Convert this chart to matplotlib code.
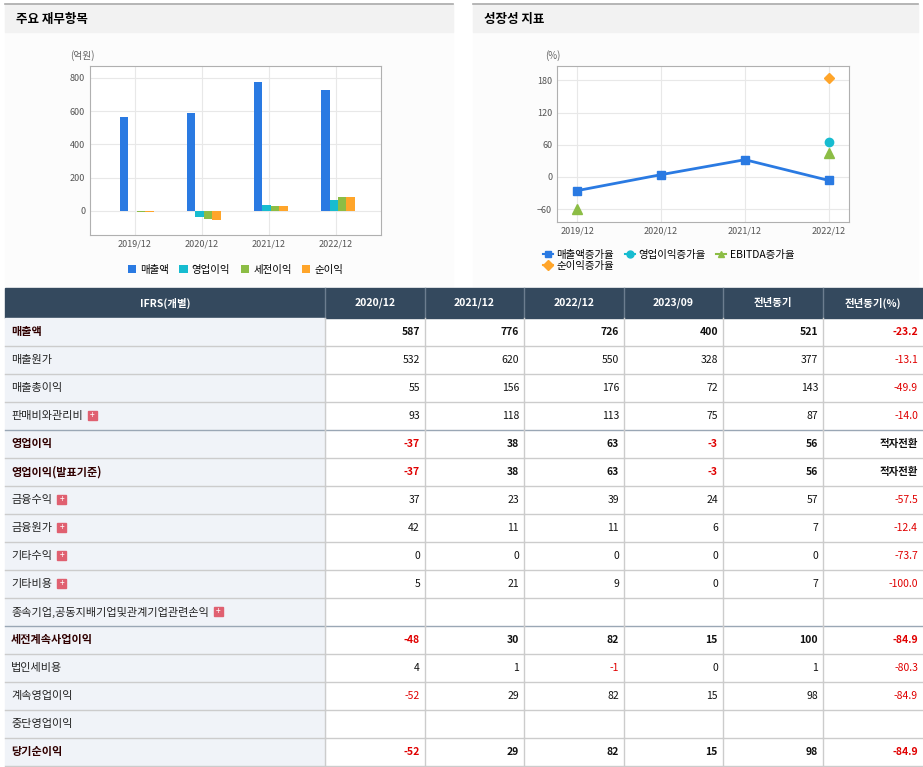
import matplotlib
matplotlib.use('Agg')
from matplotlib import pyplot as plt
from matplotlib.patches import Rectangle
from matplotlib.lines import Line2D
import numpy as np

# the CJK .ttc is registered under its first face name, so list several
plt.rcParams['font.family'] = ['Noto Sans CJK KR', 'Noto Sans CJK JP', 'Noto Sans CJK SC', 'DejaVu Sans']

W, H = 923, 767

# chart data
years = ['2019/12', '2020/12', '2021/12', '2022/12']
bar_names = ['매출액', '영업이익', '세전이익', '순이익']
bar_colors = ['#2a7ae2', '#17bcd0', '#8cbd45', '#ffa52a']
sales = [563, 587, 776, 726]
op_income = [-3, -37, 38, 63]
pretax = [-5, -48, 30, 82]
net_income = [-8, -52, 29, 82]

sales_growth = [-25.5, 4.3, 32.2, -6.5]
op_growth = [np.nan, np.nan, np.nan, 65]
ebitda_growth = [-60, np.nan, np.nan, 45]
net_growth = [np.nan, np.nan, np.nan, 184]

# table data
col_heads = ['IFRS(개별)', '2020/12', '2021/12', '2022/12', '2023/09', '전년동기', '전년동기(%)']
row_labels = ['매출액', '매출원가', '매출총이익', '판매비와관리비', '영업이익', '영업이익(발표기준)',
              '금융수익', '금융원가', '기타수익', '기타비용', '종속기업,공동지배기업및관계기업관련손익',
              '세전계속사업이익', '법인세비용', '계속영업이익', '중단영업이익', '당기순이익']
bold_rows = {0, 4, 5, 11, 15}
plus_rows = {3, 6, 7, 8, 9, 10}
table_vals = [
    ['587', '776', '726', '400', '521', '-23.2'],
    ['532', '620', '550', '328', '377', '-13.1'],
    ['55', '156', '176', '72', '143', '-49.9'],
    ['93', '118', '113', '75', '87', '-14.0'],
    ['-37', '38', '63', '-3', '56', '적자전환'],
    ['-37', '38', '63', '-3', '56', '적자전환'],
    ['37', '23', '39', '24', '57', '-57.5'],
    ['42', '11', '11', '6', '7', '-12.4'],
    ['0', '0', '0', '0', '0', '-73.7'],
    ['5', '21', '9', '0', '7', '-100.0'],
    ['', '', '', '', '', ''],
    ['-48', '30', '82', '15', '100', '-84.9'],
    ['4', '1', '-1', '0', '1', '-80.3'],
    ['-52', '29', '82', '15', '98', '-84.9'],
    ['', '', '', '', '', ''],
    ['-52', '29', '82', '15', '98', '-84.9'],
]

fig = plt.figure(figsize=(W / 100, H / 100), dpi=100)
bg = fig.add_axes([0, 0, 1, 1])
bg.set_xlim(0, W)
bg.set_ylim(H, 0)
bg.axis('off')
renderer = fig.canvas.get_renderer()


def fax(x0, y0, x1, y1):
    return fig.add_axes([x0 / W, 1 - y1 / H, (x1 - x0) / W, (y1 - y0) / H])


# panel backgrounds and title bars
for x0, x1, title in [(5, 453, '주요 재무항목'), (473, 918, '성장성 지표')]:
    bg.add_patch(Rectangle((x0, 4), x1 - x0, 282, color='#fcfcfc', zorder=0))
    bg.add_patch(Rectangle((x0, 4), x1 - x0, 28, color='#f2f2f2', zorder=1))
    bg.plot([x0, x1], [4, 4], color='#aaaaaa', lw=1.2, zorder=2)
    bg.text(x0 + 11, 19, title, fontsize=9, fontweight='bold', va='center', color='black')


def style(ax):
    ax.set_facecolor('white')
    for s in ax.spines.values():
        s.set_color('#b0b0b0')
    ax.tick_params(length=0, labelsize=6.5, colors='#555555')
    ax.grid(color='#e8e8e8', lw=0.8)
    ax.set_axisbelow(True)


# bar chart
ax1 = fax(90, 66, 381, 235)
style(ax1)
x = np.arange(len(years))
bw = 0.125
for i, (vals, c) in enumerate(zip([sales, op_income, pretax, net_income], bar_colors)):
    ax1.bar(x - 0.16 + i * bw, vals, bw, color=c, label=bar_names[i])
ax1.set_xlim(-0.67, 3.67)
ax1.set_ylim(-145, 872)
ax1.set_yticks([0, 200, 400, 600, 800])
ax1.set_xticks(x, years)
bg.text(70, 56, '(억원)', fontsize=7, color='#666666', va='center')
ax1.legend(loc='upper center', bbox_to_anchor=(0.5, -0.12), ncol=4, frameon=False,
           fontsize=7.5, handlelength=0.8, handleheight=0.8, columnspacing=1.0, handletextpad=0.4)

# growth chart
ax2 = fax(557, 66, 849, 222)
style(ax2)
ax2.plot(x, sales_growth, color='#2a7ae2', marker='s', ms=6, lw=2, label='매출액증가율')
ax2.plot(x, op_growth, color='#17bcd0', marker='o', ms=6, lw=2, label='영업이익증가율')
ax2.plot(x, ebitda_growth, color='#8cbd45', marker='^', ms=7, lw=2, ls='none', label='EBITDA증가율')
ax2.plot(x, net_growth, color='#ffa52a', marker='D', ms=5, lw=2, label='순이익증가율')
ax2.set_xlim(-0.24, 3.24)
ax2.set_ylim(-84, 207)
ax2.set_yticks([-60, 0, 60, 120, 180])
ax2.set_xticks(x, years)
bg.text(545, 56, '(%)', fontsize=7, color='#666666', va='center')
h, l = ax2.get_legend_handles_labels()
h = [Line2D([], [], color=hh.get_color(), marker=hh.get_marker(), ms=5, lw=1.5) for hh in h]
order = [0, 3, 1, 2]
ax2.legend([h[k] for k in order], [l[k] for k in order], loc='upper left',
           bbox_to_anchor=(-0.08, -0.12), ncol=3, frameon=False,
           fontsize=7.5, handlelength=1.0, columnspacing=1.0, handletextpad=0.3, labelspacing=0.1)

# table
col_x = [5, 325, 425, 524, 624, 723, 823, 923]
top, hh, rh = 288, 30, 28
bg.add_patch(Rectangle((5, top), 918, hh, color='#34495e', zorder=1))
for j, name in enumerate(col_heads):
    cx = (col_x[j] + col_x[j + 1]) / 2
    bg.text(cx, top + hh / 2, name, color='white', fontsize=7.5, fontweight='bold',
            ha='center', va='center', zorder=3)
    if j > 0:
        bg.plot([col_x[j], col_x[j]], [top, top + hh], color='#6c7d8f', lw=1, zorder=2)

for i, lab in enumerate(row_labels):
    y0 = top + hh + i * rh
    bg.add_patch(Rectangle((5, y0), 320, rh, color='#f0f3f8', zorder=1))
    bold = i in bold_rows
    t = bg.text(11, y0 + rh / 2, lab, fontsize=8, va='center',
                fontweight='bold' if bold else 'normal', color='#300000' if bold else '#222222', zorder=3)
    if i in plus_rows:
        tw = 11 + t.get_window_extent(renderer).width + 5
        bg.add_patch(Rectangle((tw, y0 + 9), 9, 9, color='#e06070', zorder=3))
        bg.text(tw + 4.5, y0 + 13.5, '+', color='white', fontsize=6, ha='center', va='center', zorder=4)
    for j, v in enumerate(table_vals[i]):
        neg = v.startswith('-')
        bg.text(col_x[j + 2] - 5, y0 + rh / 2, v, fontsize=7.5, ha='right', va='center',
                fontweight='bold' if bold else 'normal',
                color='#e00000' if neg else '#111111', zorder=3)
    lc = '#9aa7b5' if i in (3, 10) else '#cccccc'
    bg.plot([5, 923], [y0 + rh, y0 + rh], color=lc, lw=1, zorder=2)
    for j in range(2, 7):
        bg.plot([col_x[j], col_x[j]], [y0, y0 + rh], color='#cccccc', lw=1, zorder=2)
    bg.plot([325, 325], [y0, y0 + rh], color='#cccccc', lw=1, zorder=2)

fig.savefig('out.png', dpi=100)
